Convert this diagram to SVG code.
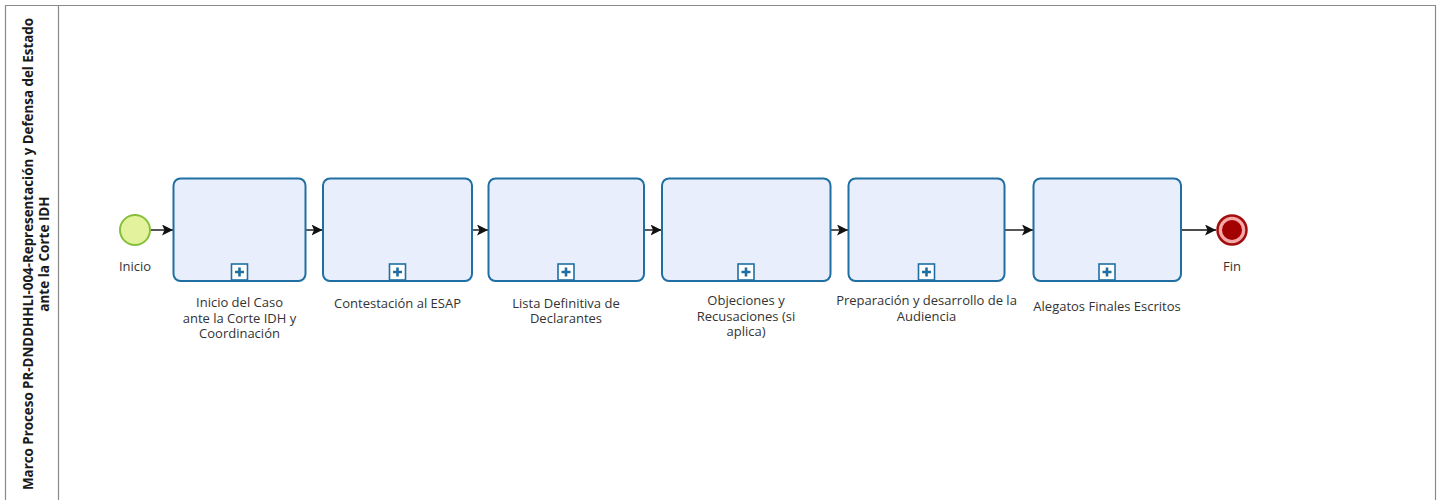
<svg xmlns="http://www.w3.org/2000/svg" width="1443" height="500" viewBox="0 0 1443 500">
<style>
.lbl{font-family:"Open Sans","Noto Sans",sans-serif;font-size:13px;fill:#333;text-anchor:middle}
.ttl{font-family:"Open Sans","Noto Sans",sans-serif;font-size:13.5px;font-weight:bold;fill:#1a1a1a;text-anchor:middle}
.task{fill:#e8eefb;stroke:#1f6fa3;stroke-width:2}
.pbox{fill:#fff;stroke:#1f6fa3;stroke-width:1.6}
.plus{stroke:#1f6fa3;stroke-width:2.6}
.flow{stroke:#111;stroke-width:1.4;fill:none;marker-end:url(#arr)}
</style>
<defs>
<marker id="arr" markerWidth="11" markerHeight="11" refX="11" refY="5.5" orient="auto" markerUnits="userSpaceOnUse">
<path d="M0,0 L11,5.5 L0,11 L2.5,5.5 Z" fill="#111"/>
</marker>
<g id="sub">
<rect x="-8" y="-17" width="16" height="16" class="pbox"/>
<path d="M-4.5,-9 H4.5 M0,-13.5 V-4.5" class="plus"/>
</g>
</defs>
<rect width="1443" height="500" fill="#fff"/>
<g id="pool">
<path d="M5.5,505 V5.5 H1435.5 V505" fill="none" stroke="#8a8a8a" stroke-width="1.2"/>
<line x1="58.5" y1="5.5" x2="58.5" y2="505" stroke="#8a8a8a" stroke-width="1.2"/>
<g transform="translate(32.5,254) rotate(-90)">
<text class="ttl" x="0" y="0" textLength="472" lengthAdjust="spacingAndGlyphs">Marco Proceso PR-DNDDHHLI-004-Representación y Defensa del Estado</text>
<text class="ttl" x="0" y="16">ante la Corte IDH</text>
</g>
</g>
<g id="connectors">
<line class="flow" x1="150.5" y1="230" x2="173" y2="230"/>
<line class="flow" x1="306" y1="230" x2="322.5" y2="230"/>
<line class="flow" x1="473" y1="230" x2="488" y2="230"/>
<line class="flow" x1="645" y1="230" x2="661.5" y2="230"/>
<line class="flow" x1="831" y1="230" x2="848" y2="230"/>
<line class="flow" x1="1005" y1="230" x2="1033" y2="230"/>
<line class="flow" x1="1182" y1="230" x2="1216" y2="230"/>
</g>
<g id="start">
<circle cx="135" cy="230" r="15" fill="#e3f29c" stroke="#86bf3a" stroke-width="2"/>
<text class="lbl" x="135" y="271">Inicio</text>
</g>
<g id="task1">
<rect class="task" x="173.5" y="178.5" width="132" height="102.5" rx="7"/>
<use href="#sub" x="239.5" y="281"/>
<text class="lbl" x="239.5" y="307">Inicio del Caso</text>
<text class="lbl" x="239.5" y="322.5">ante la Corte IDH y</text>
<text class="lbl" x="239.5" y="338">Coordinación</text>
</g>
<g id="task2">
<rect class="task" x="323" y="178.5" width="149" height="102.5" rx="7"/>
<use href="#sub" x="397.5" y="281"/>
<text class="lbl" x="397.5" y="308">Contestación al ESAP</text>
</g>
<g id="task3">
<rect class="task" x="488.5" y="178.5" width="155.5" height="102.5" rx="7"/>
<use href="#sub" x="566" y="281"/>
<text class="lbl" x="566" y="307.5">Lista Definitiva de</text>
<text class="lbl" x="566" y="323">Declarantes</text>
</g>
<g id="task4">
<rect class="task" x="662" y="178.5" width="168.5" height="102.5" rx="7"/>
<use href="#sub" x="746" y="281"/>
<text class="lbl" x="746" y="305">Objeciones y</text>
<text class="lbl" x="746" y="320.5">Recusaciones (si</text>
<text class="lbl" x="746" y="336">aplica)</text>
</g>
<g id="task5">
<rect class="task" x="848.5" y="178.5" width="156" height="102.5" rx="7"/>
<use href="#sub" x="926.5" y="281"/>
<text class="lbl" x="926.5" y="305">Preparación y desarrollo de la</text>
<text class="lbl" x="926.5" y="320.5">Audiencia</text>
</g>
<g id="task6">
<rect class="task" x="1033.5" y="178.5" width="147.5" height="102.5" rx="7"/>
<use href="#sub" x="1107" y="281"/>
<text class="lbl" x="1107" y="311">Alegatos Finales Escritos</text>
</g>
<g id="end">
<circle cx="1232" cy="230" r="14.5" fill="#f4a8a8" stroke="#a30d0d" stroke-width="2.5"/>
<circle cx="1232" cy="230" r="10" fill="#a30000"/>
<text class="lbl" x="1232" y="271">Fin</text>
</g>
</svg>
